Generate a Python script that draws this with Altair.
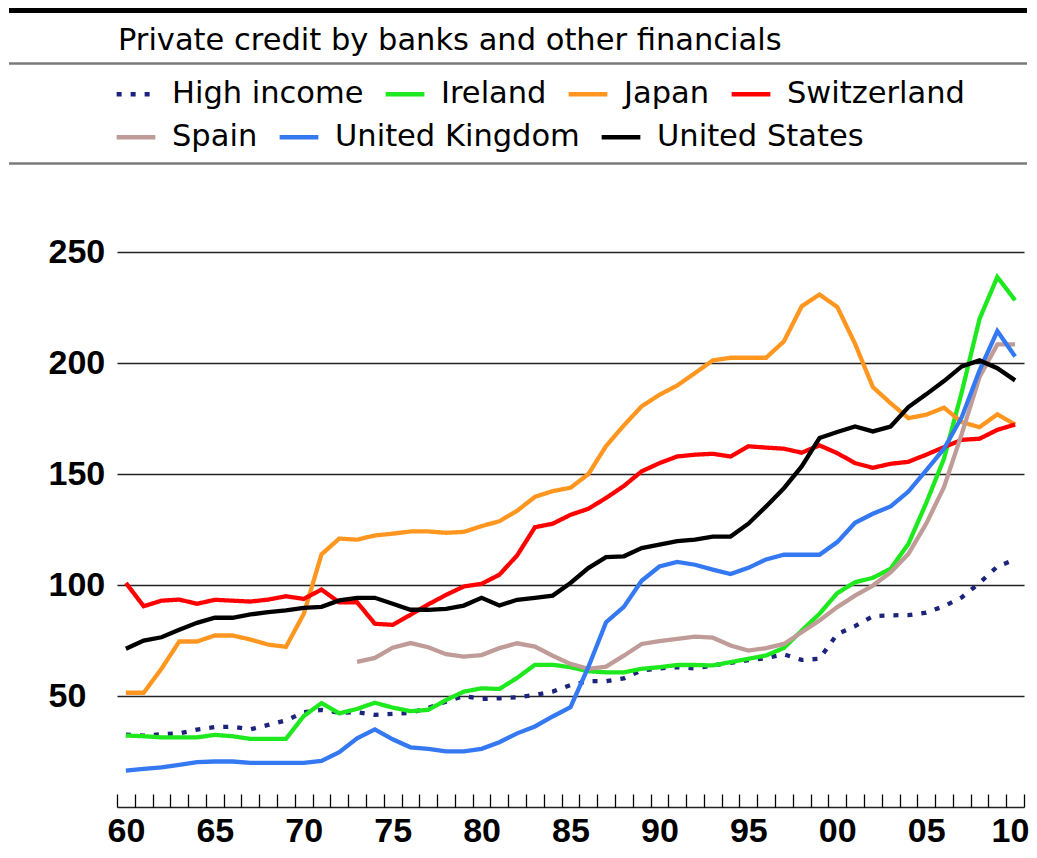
import altair as alt
import pandas as pd

TITLE = "Private credit by banks and other financials"

years = list(range(1960, 2011))

high_income = [32.6, 32.2, 32.8, 33.2, 34.9, 36.0, 36.2, 35.0, 37.0, 39.0,
               42.7, 43.8, 42.5, 42.7, 41.5, 42.0, 42.4, 44.7, 47.5, 50.0,
               48.7, 49.0, 49.5, 50.5, 52.0, 55.0, 56.7, 56.7, 58.0, 61.5,
               62.5, 63.0, 62.5, 63.8, 65.0, 66.2, 67.1, 68.8, 66.3, 66.8,
               78.0, 81.5, 86.0, 86.4, 86.5, 87.6, 90.5, 94.5, 101.0, 108.4, 111.5]

ireland = [32.2, 31.9, 31.4, 31.4, 31.4, 32.5, 31.9, 30.7, 30.7, 30.7,
           41.0, 46.8, 42.2, 44.2, 47.0, 44.8, 43.2, 43.8, 48.2, 52.0,
           53.5, 53.2, 58.2, 64.1, 64.1, 63.0, 61.2, 60.7, 60.7, 62.3,
           63.0, 64.0, 64.0, 63.8, 65.3, 66.8, 68.3, 71.7, 79.5, 87.1,
           96.4, 101.3, 103.3, 107.4, 118.6, 137.0, 157.0, 187.0, 220.0, 238.9, 228.4]

japan = [51.5, 51.5, 62.3, 74.6, 74.6, 77.3, 77.3, 75.5, 73.2, 72.2,
         87.0, 113.9, 121.0, 120.5, 122.4, 123.2, 124.2, 124.2, 123.6, 124.0,
         126.6, 128.8, 133.5, 139.8, 142.4, 143.9, 150.0, 162.7, 172.0, 180.6,
         185.8, 190.0, 195.6, 201.3, 202.5, 202.5, 202.5, 209.9, 225.7, 231.0,
         225.4, 208.8, 189.3, 182.0, 175.3, 176.8, 180.0, 173.5, 171.2, 177.0, 172.4]

switzerland = [101.0, 90.5, 93.0, 93.5, 91.6, 93.4, 93.0, 92.6, 93.5, 95.0,
               93.8, 98.0, 92.2, 92.3, 82.6, 82.1, 86.6, 91.3, 95.6, 99.4,
               100.6, 104.7, 113.4, 126.1, 127.7, 131.7, 134.4, 139.3, 144.7, 151.3,
               155.0, 158.0, 158.8, 159.2, 158.0, 162.6, 162.0, 161.5, 159.7, 163.0,
               159.5, 155.0, 152.9, 154.7, 155.6, 158.8, 162.2, 165.5, 166.0, 170.0, 172.4]

# Spain: no data before 1973
spain = [None] * 13 + [65.4, 67.2, 71.8, 73.9, 72.0, 68.9, 67.8,
                       68.5, 71.6, 73.8, 72.3, 68.2, 64.5, 62.3, 63.3, 68.2, 73.5,
                       74.8, 75.8, 76.8, 76.3, 72.8, 70.5, 71.6, 73.5, 78.8, 84.1,
                       90.1, 95.3, 99.8, 105.8, 114.1, 127.7, 144.2, 168.2, 193.8, 208.5, 208.5]

united_kingdom = [16.4, 17.2, 17.9, 19.0, 20.2, 20.5, 20.5, 19.9, 19.9, 19.9,
                  19.9, 20.8, 24.7, 31.0, 35.0, 30.5, 26.9, 26.2, 25.1, 25.1,
                  26.2, 29.2, 33.2, 36.3, 40.8, 45.0, 63.0, 83.3, 90.2, 102.0,
                  108.4, 110.5, 109.2, 107.0, 105.0, 107.8, 111.6, 113.7, 113.7, 113.7,
                  119.4, 128.1, 132.2, 135.5, 142.2, 151.7, 161.5, 175.7, 196.8, 214.5, 203.1]

united_states = [71.3, 75.0, 76.5, 79.9, 83.0, 85.3, 85.3, 86.8, 87.8, 88.6,
                 89.8, 90.2, 93.1, 94.3, 94.3, 91.6, 88.9, 88.9, 89.3, 90.8,
                 94.3, 90.8, 93.4, 94.3, 95.3, 101.0, 107.7, 112.6, 113.0, 116.7,
                 118.3, 119.8, 120.5, 121.9, 121.9, 127.7, 135.5, 143.7, 153.5, 166.3,
                 169.0, 171.5, 169.3, 171.5, 180.3, 186.0, 192.0, 198.6, 201.3, 197.8, 192.3]

# legend row 1 and row 2
SERIES_ROW1 = ["High income", "Ireland", "Japan", "Switzerland"]
SERIES_ROW2 = ["Spain", "United Kingdom", "United States"]
COLORS_ROW1 = ["#1b237a", "#1ee81e", "#ff9620", "#ff0000"]
COLORS_ROW2 = ["#bf9c97", "#3479f2", "#000000"]
DASHES_ROW1 = [[5, 9], [1, 0], [1, 0], [1, 0]]

Y_TICKS = [0, 50, 100, 150, 200, 250]
X_TICKS = [1959.5 + i for i in range(52)]  # tick marks sit between years


def long_frame(names, arrays):
    rows = []
    for name, vals in zip(names, arrays):
        for yr, v in zip(years, vals):
            if v is not None:
                rows.append({"year": yr, "value": v, "series": name})
    return pd.DataFrame(rows)


df1 = long_frame(SERIES_ROW1, [high_income, ireland, japan, switzerland])
df2 = long_frame(SERIES_ROW2, [spain, united_kingdom, united_states])

X_ENC = alt.X(
    "year:Q",
    scale=alt.Scale(domain=[1959.5, 2010.5], nice=False, zero=False),
    axis=alt.Axis(
        title=None, values=X_TICKS, grid=False, domain=False,
        tickSize=13, tickColor="black", tickWidth=1.3, offset=-13,
        labelExpr="(datum.value - 0.5) % 5 == 0 ? slice(toString(datum.value - 0.5), 2) : ''",
        labelOffset={"condition": {"test": "datum.value > 2010", "value": -14}, "value": -8.9},
        labelBaseline="alphabetic", labelPadding=34.5,
        labelOverlap=False, labelFlush=False,
        labelFont="Liberation Sans", labelFontSize=34, labelFontWeight="bold",
        labelColor="black",
    ),
)
Y_ENC = alt.Y(
    "value:Q",
    scale=alt.Scale(domain=[0, 270], nice=False),
    axis=alt.Axis(
        title=None, values=Y_TICKS, grid=True, gridColor="#222222", gridWidth=1.5,
        domain=False, ticks=False,
        labelExpr="datum.value == 0 ? '' : datum.label",
        labelAlign="left", labelPadding=69, labelBaseline="middle",
        labelFont="Liberation Sans", labelFontSize=34, labelFontWeight="bold",
        labelColor="black",
    ),
)


def make_legend(y, ncols):
    return alt.Legend(
        title=None, orient="none", legendX=-3, legendY=y,
        direction="horizontal", columns=ncols,
        symbolType="stroke", symbolSize=1500, symbolStrokeWidth=4.5,
        labelFont="DejaVu Sans", labelFontSize=30.5, labelColor="black",
        labelLimit=500, labelOffset=14, columnPadding=12, padding=0,
    )


leg1 = make_legend(-136, 4)
leg2 = make_legend(-93, 3)

lines1 = alt.Chart(df1).mark_line(strokeWidth=4.3).encode(
    x=X_ENC, y=Y_ENC,
    color=alt.Color("series:N", scale=alt.Scale(domain=SERIES_ROW1, range=COLORS_ROW1), legend=leg1),
    strokeDash=alt.StrokeDash("series:N", scale=alt.Scale(domain=SERIES_ROW1, range=DASHES_ROW1), legend=leg1),
)
lines2 = alt.Chart(df2).mark_line(strokeWidth=4.3).encode(
    x=X_ENC, y=Y_ENC,
    color=alt.Color("series:N", scale=alt.Scale(domain=SERIES_ROW2, range=COLORS_ROW2), legend=leg2),
)

one = pd.DataFrame({"t": [TITLE]})

title = alt.Chart(one).mark_text(
    align="left", baseline="alphabetic", font="DejaVu Sans", fontSize=30.5, color="black"
).encode(text="t:N", x=alt.value(1), y=alt.value(-158))

top_bar = alt.Chart(one).mark_rule(color="black", strokeWidth=5).encode(
    x=alt.value(-108), x2=alt.value(910), y=alt.value(-197.5))
rule1 = alt.Chart(one).mark_rule(color="#7a7a7a", strokeWidth=2.5).encode(
    x=alt.value(-108), x2=alt.value(910), y=alt.value(-144.5))
rule2 = alt.Chart(one).mark_rule(color="#7a7a7a", strokeWidth=2.5).encode(
    x=alt.value(-108), x2=alt.value(910), y=alt.value(-44.5))

chart = alt.layer(lines1, lines2, title, top_bar, rule1, rule2).resolve_scale(
    color="independent", strokeDash="independent"
).properties(
    width=907, height=599,
    autosize=alt.AutoSizeParams(type="none"),
    padding={"left": 109, "top": 200, "right": 5, "bottom": 42},
    background="white",
).configure_view(stroke="transparent")

chart.save("out.html", embed_options={"renderer": "svg", "actions": False})
